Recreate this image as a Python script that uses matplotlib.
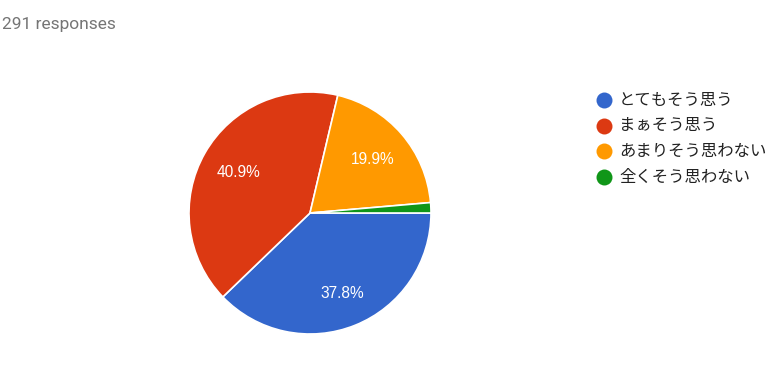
import matplotlib.pyplot as plt
from matplotlib.lines import Line2D

# 回答データ (291 responses)
labels = ['とてもそう思う', 'まぁそう思う', 'あまりそう思わない', '全くそう思わない']
counts = [110, 119, 58, 4]
colors = ['#3366cc', '#dc3912', '#ff9900', '#109618']
title = '291 responses'

W, H = 766, 390
fig = plt.figure(figsize=(W / 100, H / 100), dpi=100)

# 円グラフ: 中心 (310, 213) px, 半径 121 px
cx, cy, r = 310, 213, 121
ax = fig.add_axes([(cx - r) / W, (H - cy - r) / H, 2 * r / W, 2 * r / H])


def fmt(p):
    return f'{p:.1f}%' if p >= 5 else ''


wedges, texts, autotexts = ax.pie(
    counts, colors=colors, startangle=0, counterclock=False,
    autopct=fmt, pctdistance=0.68,
    wedgeprops=dict(edgecolor='white', linewidth=1.2),
    textprops=dict(color='white', fontsize=11.2, family='Liberation Sans'))
# 青のラベルは少し外側
x0, y0 = autotexts[0].get_position()
autotexts[0].set_position((x0 * 1.05, y0 * 1.05))
ax.set_xlim(-1, 1)
ax.set_ylim(-1, 1)
ax.set_aspect('auto')
ax.axis('off')

fig.text(2 / W, 1 - 24 / H, title, fontsize=12.5, color='#757575',
         family='Roboto', ha='left', va='center')

# 凡例
for i, (lab, col) in enumerate(zip(labels, colors)):
    y = 1 - (100 + 25.7 * i) / H
    fig.add_artist(Line2D([604 / W], [y], marker='o', markersize=11.5,
                          color=col, markeredgewidth=0, transform=fig.transFigure))
    fig.text(619 / W, y, lab, fontsize=11.8, color='#222222',
             family=['Noto Sans CJK JP', 'DejaVu Sans'], ha='left', va='center')

fig.savefig('out.png', dpi=100)
